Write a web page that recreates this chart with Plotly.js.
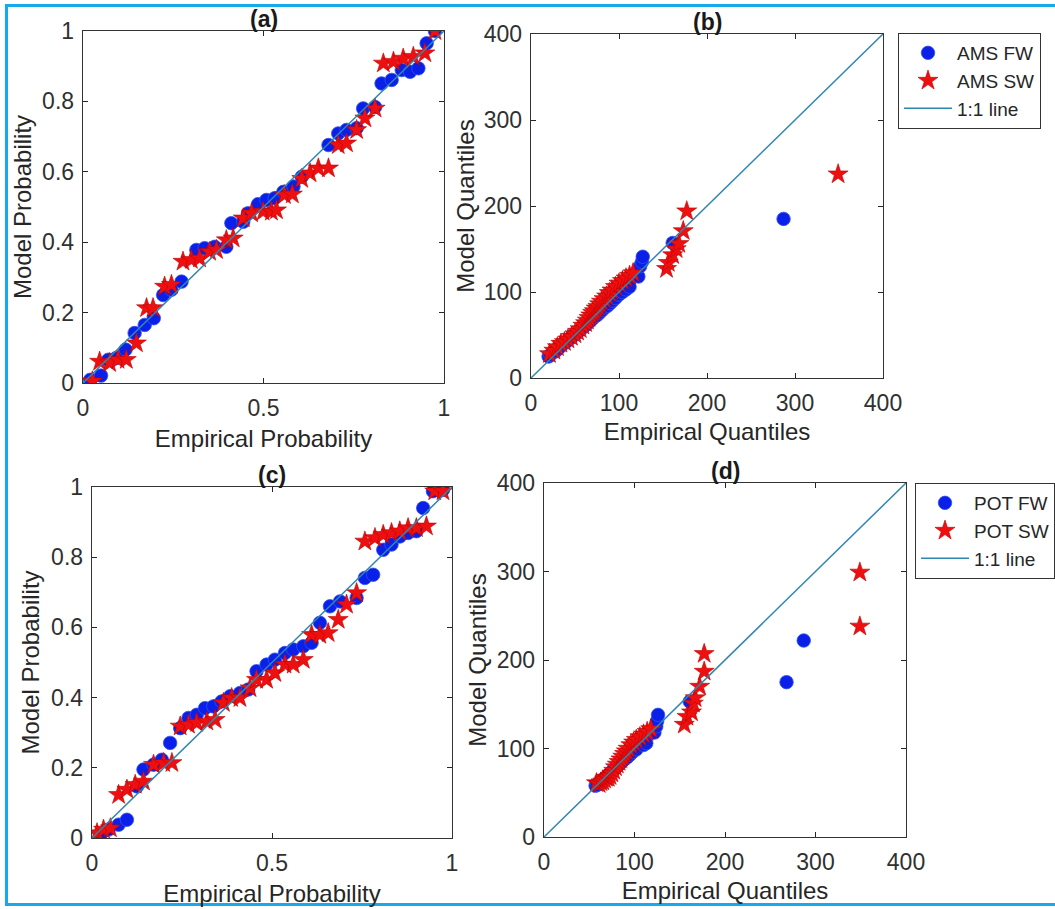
<!DOCTYPE html>
<html>
<head>
<meta charset="utf-8">
<script src="https://cdn.plot.ly/plotly-3.0.1.min.js"></script>
<style>html,body{margin:0;padding:0;background:#fff;}#chart{width:1055px;height:909px;}</style>
</head>
<body>
<div id="chart"></div>
<script>
// ---- Panel (a): AMS probability plot ----
const aFWx = [0.02,0.05,0.07,0.092,0.118,0.143,0.171,0.196,0.222,0.245,0.273,0.314,0.337,0.365,0.397,0.411,0.444,0.457,0.485,0.508,0.531,0.555,0.583,0.606,0.68,0.707,0.73,0.758,0.776,0.809,0.827,0.855,0.883,0.906,0.929,0.952,0.975];
const aFWy = [0.009,0.021,0.066,0.071,0.095,0.142,0.165,0.184,0.25,0.265,0.288,0.378,0.383,0.387,0.387,0.454,0.458,0.482,0.508,0.52,0.525,0.543,0.558,0.586,0.676,0.709,0.719,0.724,0.78,0.784,0.851,0.861,0.889,0.884,0.894,0.965,1.0];
const aSWx = [0.026,0.046,0.074,0.097,0.12,0.148,0.176,0.194,0.226,0.245,0.277,0.30,0.323,0.351,0.37,0.397,0.416,0.444,0.467,0.499,0.522,0.536,0.558,0.58,0.606,0.629,0.652,0.68,0.707,0.73,0.758,0.781,0.809,0.832,0.86,0.887,0.915,0.947,0.975];
const aSWy = [0.005,0.061,0.057,0.066,0.066,0.113,0.213,0.213,0.274,0.279,0.345,0.35,0.354,0.373,0.378,0.406,0.411,0.468,0.482,0.487,0.487,0.491,0.534,0.536,0.58,0.596,0.61,0.61,0.676,0.681,0.719,0.752,0.78,0.908,0.913,0.922,0.927,0.937,1.0];

// ---- Panel (b): AMS quantile plot ----
const bFWx = [20,22,25,28,31,34,37,40,43,46,49,52,55,58,60,63,66,69,72,75,78,81,84,87,90,93,96,100,104,108,112,122,124,126,127,161,287];
const bFWy = [25,27,30,31,34,37,40,42,45,47,50,52,55,58,60,62,65,68,71,73,76,79,82,84,87,90,93,97,100,103,106,118,130,135,141,157,185];
const bSWx = [21,26,30,34,38,42,46,50,53,56,59,62,64,66,68,70,72,74,76,78,80,83,86,89,92,96,100,104,108,112,116,154,156,161,165,168,173,177,349];
const bSWy = [28,32,36,40,42,45,48,51,54,57,61,64,67,70,73,76,78,81,83,86,89,92,95,99,102,106,110,113,116,119,122,127,134,143,150,156,171,194,237];

// ---- Panel (c): POT probability plot ----
const cFWx = [0.023,0.046,0.074,0.097,0.125,0.143,0.171,0.194,0.217,0.245,0.268,0.291,0.314,0.337,0.36,0.384,0.411,0.434,0.457,0.485,0.508,0.536,0.559,0.587,0.61,0.633,0.661,0.689,0.735,0.758,0.781,0.809,0.832,0.855,0.878,0.901,0.92,0.947,0.975];
const cFWy = [0.005,0.024,0.038,0.052,0.147,0.195,0.209,0.223,0.271,0.313,0.342,0.351,0.37,0.375,0.389,0.404,0.413,0.423,0.475,0.494,0.508,0.527,0.537,0.546,0.556,0.613,0.66,0.674,0.684,0.741,0.75,0.821,0.836,0.859,0.869,0.874,0.94,0.988,0.992];
const cSWx = [0.014,0.032,0.051,0.074,0.097,0.12,0.143,0.171,0.199,0.222,0.245,0.268,0.291,0.319,0.342,0.365,0.388,0.411,0.439,0.457,0.485,0.508,0.536,0.559,0.587,0.61,0.633,0.656,0.684,0.707,0.735,0.758,0.786,0.809,0.832,0.855,0.878,0.901,0.929,0.952,0.975];
const cSWy = [0.014,0.024,0.028,0.123,0.138,0.152,0.161,0.209,0.214,0.214,0.318,0.323,0.328,0.332,0.337,0.385,0.399,0.399,0.427,0.451,0.451,0.47,0.494,0.494,0.508,0.579,0.579,0.584,0.622,0.665,0.698,0.845,0.855,0.864,0.869,0.874,0.883,0.883,0.888,0.988,0.988];

// ---- Panel (d): POT quantile plot ----
const dFWx = [57,59,61,63,65,67,69,71,73,75,77,79,81,83,85,87,89,92,95,98,102,110,113,122,124,125,126,161,268,287];
const dFWy = [58,59,61,62,64,66,68,70,72,74,76,78,80,82,84,86,88,90,93,96,99,104,106,118,125,131,138,153,175,222];
const dSWx = [58,61,63,65,67,69,71,73,75,77,79,81,83,85,87,89,91,93,96,99,102,106,110,114,118,155,158,163,165,167,172,177,177,349,349];
const dSWy = [61,60,62,63,65,67,67,69,72,75,79,82,85,88,91,94,97,100,104,107,110,113,116,119,122,127,136,141,151,157,170,187,207,238,299];

// ---- 1:1 reference lines ----
const probLine = [0, 1];
const quantLine = [0, 400];

// ---- labels ----
const panelTitles = ['(a)', '(b)', '(c)', '(d)'];
const legendNames1 = ['AMS FW', 'AMS SW', '1:1 line'];
const legendNames2 = ['POT FW', 'POT SW', '1:1 line'];
const probTickVals = [0, 0.5, 1];
const probTickText = ['0', '0.5', '1'];
const probYTickVals = [0, 0.2, 0.4, 0.6, 0.8, 1];
const probYTickText = ['0', '0.2', '0.4', '0.6', '0.8', '1'];
const quantTickVals = [0, 100, 200, 300, 400];
const quantTickText = ['0', '100', '200', '300', '400'];

const BLUE = '#0a20e8';
const RED = '#ee1010';
const LINEC = '#2f86b0';
const FONT = 'Liberation Sans, Arial, sans-serif';
const TXT = '#262626';

function circles(x, y, xa, ya, name, show, leg) {
  return {x: x, y: y, xaxis: xa, yaxis: ya, type: 'scatter', mode: 'markers', name: name,
    showlegend: show, legend: leg,
    marker: {symbol: 'circle', size: 13.5, color: BLUE, line: {width: 0.8, color: '#3050f0'}}};
}
function stars(x, y, xa, ya, name, show, leg) {
  return {x: x, y: y, xaxis: xa, yaxis: ya, type: 'scatter', mode: 'markers', name: name,
    showlegend: show, legend: leg,
    marker: {symbol: 'star', size: 15, color: RED, line: {width: 0.6, color: '#c00000'}}};
}
function refLine(v, xa, ya, name, show, leg) {
  return {x: v, y: v, xaxis: xa, yaxis: ya, type: 'scatter', mode: 'lines', name: name,
    showlegend: show, legend: leg, line: {color: LINEC, width: 1.5}};
}

const data = [
  circles(aFWx, aFWy, 'x', 'y', legendNames1[0], false, 'legend'),
  stars(aSWx, aSWy, 'x', 'y', legendNames1[1], false, 'legend'),
  refLine(probLine, 'x', 'y', legendNames1[2], false, 'legend'),
  circles(bFWx, bFWy, 'x2', 'y2', legendNames1[0], true, 'legend'),
  stars(bSWx, bSWy, 'x2', 'y2', legendNames1[1], true, 'legend'),
  refLine(quantLine, 'x2', 'y2', legendNames1[2], true, 'legend'),
  circles(cFWx, cFWy, 'x3', 'y3', legendNames2[0], false, 'legend2'),
  stars(cSWx, cSWy, 'x3', 'y3', legendNames2[1], false, 'legend2'),
  refLine(probLine, 'x3', 'y3', legendNames2[2], false, 'legend2'),
  circles(dFWx, dFWy, 'x4', 'y4', legendNames2[0], true, 'legend2'),
  stars(dSWx, dSWy, 'x4', 'y4', legendNames2[1], true, 'legend2'),
  refLine(quantLine, 'x4', 'y4', legendNames2[2], true, 'legend2')
];

const W = 1055, H = 909;
function dx(a, b) { return [a / W, b / W]; }
function dy(top, bot) { return [1 - bot / H, 1 - top / H]; }

function axis(domain, range, tv, tt, title, anchor, standoff, lso) {
  return {domain: domain, range: range, anchor: anchor, tickvals: tv, ticktext: tt,
    ticks: 'inside', ticklen: 5, tickwidth: 1, tickcolor: TXT, mirror: 'allticks',
    showline: true, linecolor: '#333', linewidth: 1.3, showgrid: false, zeroline: false,
    tickfont: {family: FONT, size: 23, color: '#303030'}, ticklabelstandoff: lso,
    title: {text: title, font: {family: FONT, size: 24, color: TXT}, standoff: standoff},
    automargin: false, fixedrange: true};
}

const legendStyle = {xanchor: 'left', yanchor: 'top', bgcolor: '#fff',
  bordercolor: '#333', borderwidth: 1, font: {family: FONT, size: 19, color: TXT},
  tracegroupgap: 0, itemwidth: 48};

const layout = {
  width: W, height: H, margin: {l: 0, r: 0, t: 0, b: 0},
  paper_bgcolor: '#fff', plot_bgcolor: '#fff', font: {family: FONT, color: TXT},
  xaxis: axis(dx(83, 444), [0, 1], probTickVals, probTickText, 'Empirical Probability', 'y', 10, 4),
  yaxis: axis(dy(31, 383), [0, 1], probYTickVals, probYTickText, 'Model Probability', 'x', 3, 3),
  xaxis2: axis(dx(531, 883), [0, 400], quantTickVals, quantTickText, 'Empirical Quantiles', 'y2', 8, 4),
  yaxis2: axis(dy(34, 378), [0, 400], quantTickVals, quantTickText, 'Model Quantiles', 'x2', 2, 3),
  xaxis3: axis(dx(92, 452), [0, 1], probTickVals, probTickText, 'Empirical Probability', 'y3', 10, 4),
  yaxis3: axis(dy(487, 838), [0, 1], probYTickVals, probYTickText, 'Model Probability', 'x3', 4, 3),
  xaxis4: axis(dx(544, 906), [0, 400], quantTickVals, quantTickText, 'Empirical Quantiles', 'y4', 8, 4),
  yaxis4: axis(dy(483, 837), [0, 400], quantTickVals, quantTickText, 'Model Quantiles', 'x4', 3, 3),
  legend: Object.assign({x: 898 / W, y: 1 - 33 / H}, legendStyle),
  legend2: Object.assign({x: 915 / W, y: 1 - 483 / H}, legendStyle),
  annotations: [
    ['x', 'y'], ['x2', 'y2'], ['x3', 'y3'], ['x4', 'y4']
  ].map(function (p, i) {
    return {text: '<b>' + panelTitles[i] + '</b>', xref: p[0] + ' domain', yref: p[1] + ' domain',
      x: 0.5, y: 1, xanchor: 'center', yanchor: 'bottom', yshift: -3, showarrow: false,
      font: {family: FONT, size: 23, color: '#1a1a1a'}};
  }),
  shapes: [{type: 'rect', xref: 'paper', yref: 'paper', x0: 6.5 / W, x1: 1.02, y0: 1 - 904.5 / H, y1: 1 - 5.5 / H,
    line: {color: '#16aaec', width: 3}, fillcolor: 'rgba(0,0,0,0)', layer: 'above'}]
};

Plotly.newPlot('chart', data, layout, {displayModeBar: false, staticPlot: true});
</script>
</body>
</html>
